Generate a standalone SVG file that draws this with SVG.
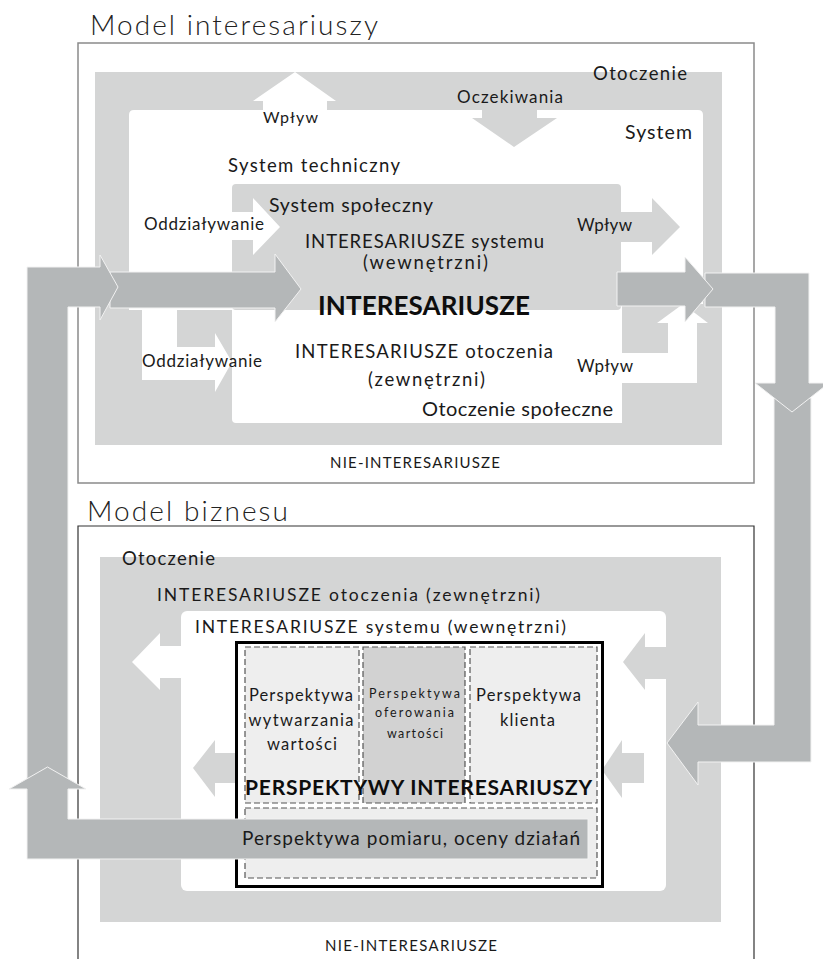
<svg xmlns="http://www.w3.org/2000/svg" width="823" height="959" viewBox="0 0 823 959">
<style>
.t{font-family:Lato,'Liberation Sans',sans-serif;fill:#1a1a1a}
.ttl{font-family:Lato,'Liberation Sans',sans-serif;font-weight:300;fill:#222}
.b{font-weight:bold;fill:#0d0d0d}
.lg{fill:#d4d5d5}
.w{fill:#fff}
.dg{fill:#b4b7b8;stroke:#f2f2f2;stroke-width:1}
.dash{stroke:#555;stroke-width:1.2;stroke-dasharray:6 3}
</style>
<rect width="823" height="959" fill="#fff"/>

<g id="model-interesariuszy">
  <text class="ttl" x="90" y="35" font-size="28" textLength="288">Model interesariuszy</text>
  <rect x="78" y="43" width="676" height="440" fill="#fff" stroke="#8a8a8a" stroke-width="1.5"/>
</g>

<g id="otoczenie-top">
  <rect class="lg" x="95" y="72" width="627" height="373"/>
  <text class="t" x="593" y="80" font-size="18.5" textLength="94">Otoczenie</text>
  <text class="t" x="330" y="468" font-size="15" textLength="170">NIE-INTERESARIUSZE</text>
</g>

<g id="system">
  <path class="w" d="M129,310 V115 Q129,110 134,110 H698 Q703,110 703,115 V310 Z"/>
  <text class="t" x="625" y="139" font-size="19.5" textLength="67">System</text>
  <text class="t" x="228" y="172" font-size="18.5" textLength="172">System techniczny</text>
</g>

<g id="wplyw-top">
  <polygon class="w" points="263,112 263,101 253,101 295,72 336,101 327,101 327,112"/>
  <text class="t" x="263" y="123" font-size="16" textLength="55">Wpływ</text>
</g>

<g id="oczekiwania">
  <polygon class="lg" points="482,100 537,100 537,118 557,118 514,147 472,118 482,118"/>
  <text class="t" x="457" y="103" font-size="17" textLength="106">Oczekiwania</text>
</g>

<g id="system-spoleczny">
  <rect class="lg" x="232" y="184" width="389" height="126" rx="4"/>
  <text class="t" x="269" y="212" font-size="19.5" textLength="164">System społeczny</text>
  <text class="t" x="305" y="248" font-size="18.5" textLength="239">INTERESARIUSZE systemu</text>
  <text class="t" x="363" y="269" font-size="18.5" textLength="125">(wewnętrzni)</text>
</g>

<g id="oddzialywanie-top">
  <polygon class="w" points="200,212 253,212 253,198 280,227 253,255 253,240 200,240"/>
  <text class="t" x="144" y="230" font-size="17" textLength="120">Oddziaływanie</text>
</g>

<g id="wplyw-right-upper">
  <polygon class="lg" points="615,212 652,212 652,198 680,227 652,255 652,242 615,242"/>
  <text class="t" x="577" y="231" font-size="17" textLength="55">Wpływ</text>
</g>

<g id="otoczenie-spoleczne">
  <rect class="lg" x="622" y="304" width="82" height="82"/>
  <path class="w" d="M232,310 H622 V423 H236 Q232,423 232,419 Z"/>
  <polygon class="w" points="142,310 177,310 177,347 215,347 215,333 232,362 215,392 215,380 142,380"/>
  <polygon class="w" points="622,353 668,353 668,323 657,323 683,304 708,323 697,323 697,383 622,383"/>
  <text class="t" x="142" y="367" font-size="17" textLength="120">Oddziaływanie</text>
  <text class="t" x="577" y="372" font-size="17" textLength="56">Wpływ</text>
  <text class="t" x="295" y="358" font-size="18.5" textLength="258">INTERESARIUSZE otoczenia</text>
  <text class="t" x="368" y="386" font-size="18.5" textLength="117">(zewnętrzni)</text>
  <text class="t" x="422" y="416" font-size="20" textLength="191">Otoczenie społeczne</text>
</g>

<g id="interesariusze-top">
  <text class="t b" x="318" y="315" font-size="26" textLength="212">INTERESARIUSZE</text>
</g>

<g id="model-biznesu">
  <text class="ttl" x="87" y="521" font-size="28" textLength="201">Model biznesu</text>
  <path d="M78,959 V526 H754 V959" fill="#fff" stroke="#333" stroke-width="1.2"/>
</g>

<g id="otoczenie-bottom">
  <rect class="lg" x="100" y="557" width="621" height="365"/>
  <text class="t" x="122" y="565" font-size="18.5" textLength="93">Otoczenie</text>
  <text class="t" x="157" y="601" font-size="17.5" textLength="383">INTERESARIUSZE otoczenia (zewnętrzni)</text>
  <text class="t" x="325" y="951" font-size="15" textLength="172">NIE-INTERESARIUSZE</text>
</g>

<g id="interesariusze-systemu">
  <rect class="w" x="181" y="611" width="485" height="280" rx="6"/>
  <polygon class="w" points="182,646 160,646 160,633 132,662 160,690 160,678 182,678"/>
  <polygon class="lg" points="666,647 645,647 645,633 623,662 645,690 645,679 666,679"/>
  <polygon class="lg" points="235,753 215,753 215,740 193,768 215,797 215,783 235,783"/>
  <polygon class="lg" points="644,753 622,753 622,740 602,770 622,798 622,783 644,783"/>
  <text class="t" x="195" y="633" font-size="17.5" textLength="371">INTERESARIUSZE systemu (wewnętrzni)</text>
</g>

<g id="perspektywy">
  <rect x="236.5" y="642.5" width="366" height="244" fill="#fff" stroke="#000" stroke-width="3"/>
  <rect class="dash" x="245" y="647" width="114" height="156" fill="#eeeeee"/>
  <rect class="dash" x="363" y="647" width="102" height="156" fill="#d2d2d2"/>
  <rect class="dash" x="470" y="647" width="127" height="156" fill="#eeeeee"/>
  <rect class="dash" x="245" y="808" width="352" height="70" fill="#eeeeee"/>
  <g class="t" text-anchor="middle" font-size="16.5">
    <text x="301" y="701" textLength="104">Perspektywa</text>
    <text x="301" y="726" textLength="105">wytwarzania</text>
    <text x="302" y="750" textLength="70">wartości</text>
    <text x="528.5" y="701" textLength="105">Perspektywa</text>
    <text x="527.5" y="726" textLength="55">klienta</text>
  </g>
  <g class="t" text-anchor="middle" font-size="12.5">
    <text x="414.5" y="698" textLength="91">Perspektywa</text>
    <text x="414.5" y="717" textLength="79">oferowania</text>
    <text x="415" y="738" textLength="56">wartości</text>
  </g>
  <text class="t b" x="245" y="795" font-size="21" textLength="347">PERSPEKTYWY INTERESARIUSZY</text>
</g>

<g id="connectors">
  <polygon class="dg" points="110,272 275,272 275,254 301,289 275,322 275,308 110,308"/>
  <polygon class="dg" points="27,800 27,267 100,267 100,255 118,287 100,320 100,307 68,307 68,800"/>
  <polygon class="dg" points="774,398 811,398 811,762 698,762 698,785 667,743 698,702 698,725 774,725"/>
  <polygon class="dg" points="705,273 809,273 809,383 829,383 792,412 755,383 775,383 775,307 705,307"/>
  <polygon class="dg" points="617,272 685,272 685,257 713,289 685,322 685,306 617,306"/>
  <polygon class="dg" points="588,819 588,859 27,859 27,789 9,789 47.5,767 86,789 68,789 68,819"/>
</g>

<g id="perspektywa-pomiaru">
  <text class="t" x="242" y="845" font-size="19" textLength="338">Perspektywa pomiaru, oceny działań</text>
</g>
</svg>
